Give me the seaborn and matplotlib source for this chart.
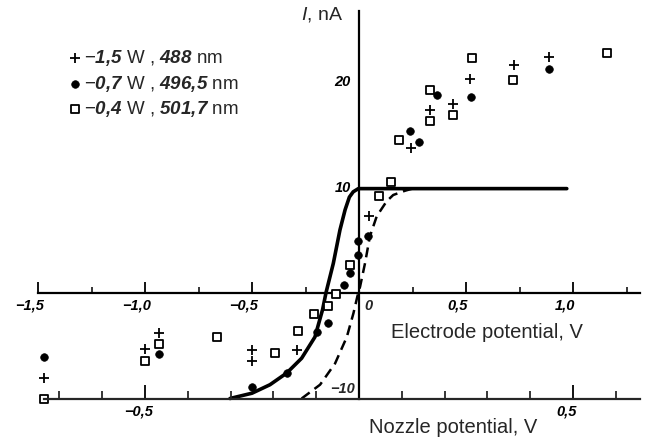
import numpy as np
import pandas as pd
import matplotlib
matplotlib.use("Agg")
import matplotlib.pyplot as plt
import seaborn as sns
from matplotlib.transforms import ScaledTranslation
from matplotlib.ticker import FixedLocator, NullFormatter, FixedFormatter

# ---------------- data (electrode potential V, current nA) ----------------
plus_x = [-1.47, -1.00, -0.933, -0.50, -0.50, -0.288, 0.048, 0.242, 0.332, 0.438, 0.519, 0.724, 0.889]
plus_y = [-8.1, -5.3, -3.85, -5.4, -6.5, -5.4, 7.2, 13.6, 17.2, 17.8, 20.1, 21.5, 22.2]

dot_x = [-1.47, -0.933, -0.501, -0.338, -0.198, -0.143, -0.070, -0.042, -0.003, -0.003, 0.044,
         0.238, 0.282, 0.365, 0.523, 0.889]
dot_y = [-6.05, -5.8, -8.9, -7.6, -3.7, -2.9, 0.7, 1.8, 3.5, 4.9, 5.3,
         15.2, 14.2, 18.6, 18.4, 21.1]

sq_x = [-1.47, -0.999, -0.933, -0.665, -0.393, -0.284, -0.21, -0.143, -0.107, -0.042, 0.095,
        0.148, 0.188, 0.331, 0.332, 0.441, 0.528, 0.718, 1.157]
sq_y = [-10.0, -6.5, -4.9, -4.2, -5.7, -3.6, -2.0, -1.3, -0.1, 2.6, 9.1,
        10.4, 14.4, 19.1, 16.2, 16.7, 22.1, 20.0, 22.6]

solid_x = [-0.603, -0.50, -0.416, -0.338, -0.268, -0.206, -0.170, -0.154, -0.12, -0.089,
           -0.065, -0.045, -0.027, -0.003, 0.50, 0.971]
solid_y = [-10.0, -9.5, -8.7, -7.6, -6.2, -4.2, -1.6, 0.0, 2.75, 5.9,
           7.8, 9.0, 9.5, 9.8, 9.8, 9.8]

dash_x = [-0.268, -0.182, -0.112, -0.057, -0.026, -0.008, 0.005, 0.028, 0.051, 0.083,
          0.129, 0.16, 0.215, 0.25]
dash_y = [-10.0, -8.7, -6.7, -4.2, -1.96, -0.4, 0.55, 2.75, 5.3, 7.2,
          8.6, 9.2, 9.6, 9.8]

legend_labels = [r"$-\mathbf{1{,}5}$ W , $\mathbf{488}$ nm",
                 r"$-\mathbf{0{,}7}$ W , $\mathbf{496{,}5}$ nm",
                 r"$-\mathbf{0{,}4}$ W , $\mathbf{501{,}7}$ nm"]

el_major = [-1.5, -1.0, -0.5, 0.5, 1.0]
el_major_labels = ["\u22121,5", "\u22121,0", "\u22120,5", "0,5", "1,0"]
el_minor = [-1.25, -0.75, -0.25, 0.25, 0.75, 1.25]
noz_major = [-0.5, 0.5]
noz_major_labels = ["\u22120,5", "0,5"]
noz_minor = [-0.7, -0.6, -0.4, -0.3, -0.2, -0.1, 0.1, 0.2, 0.3, 0.4, 0.6]
y_major = [10, 20]
y_minor = [15]

# ---------------- style ----------------
sns.set_style("white")
plt.rcParams["font.family"] = ["Liberation Sans", "DejaVu Sans"]
plt.rcParams["mathtext.fontset"] = "custom"
plt.rcParams["mathtext.rm"] = "Liberation Sans"
plt.rcParams["mathtext.it"] = "Liberation Sans:italic"
plt.rcParams["mathtext.bf"] = "Liberation Sans:italic:bold"

W, H = 650, 444
fig = plt.figure(figsize=(W / 100, H / 100), dpi=100)
ax = fig.add_axes([0, 0, 1, 1])
ax.patch.set_alpha(0)

# pixel mapping: X=0 at px 359, 214 px per V ; Y=0 at py 292.5, 10.6 px per nA
xmin, xmax = -359 / 214, (W - 359) / 214
ymin, ymax = -(H - 292.5) / 10.6, 292.5 / 10.6
ax.set_xlim(xmin, xmax)
ax.set_ylim(ymin, ymax)

# curves
sns.lineplot(x=solid_x, y=solid_y, ax=ax, color="black", lw=2.6, sort=False, estimator=None)
sns.lineplot(x=dash_x, y=dash_y, ax=ax, color="black", lw=1.8, sort=False, estimator=None,
             dashes=False, linestyle=(0, (4.0, 2.4)))

# scatter points
sns.scatterplot(x=plus_x, y=plus_y, ax=ax, marker="+", s=55, color="black", linewidth=1.3,
                label=legend_labels[0], zorder=5)
sns.scatterplot(x=dot_x, y=dot_y, ax=ax, marker="o", s=30, color="black", edgecolor="black",
                linewidth=0.5, label=legend_labels[1], zorder=5)
sns.scatterplot(x=sq_x, y=sq_y, ax=ax, marker="s", s=28, color="black", facecolor="white",
                edgecolor="black", linewidth=1.3, label=legend_labels[2], zorder=5)

# ---------------- axes (electrode potential & current) ----------------
for s in ["top", "right"]:
    ax.spines[s].set_visible(False)
ax.spines["bottom"].set_position(("data", 0))
ax.spines["bottom"].set_bounds(-1.5, 1.313)
ax.spines["left"].set_position(("data", 0))
ax.spines["left"].set_bounds(-10, 26.6)
for s in ["bottom", "left"]:
    ax.spines[s].set_linewidth(1.6)
    ax.spines[s].set_color("black")

ax.xaxis.set_major_locator(FixedLocator(el_major))
ax.xaxis.set_major_formatter(FixedFormatter(el_major_labels))
ax.xaxis.set_minor_locator(FixedLocator(el_minor))
ax.xaxis.set_minor_formatter(NullFormatter())
ax.tick_params(axis="x", which="major", direction="in", length=8, width=1.3, pad=4.5,
               labelsize=10.5, colors="black")
ax.tick_params(axis="x", which="minor", direction="in", length=4.5, width=1.3)
for lab in ax.get_xticklabels():
    lab.set_fontstyle("italic")
    lab.set_fontweight("bold")
    lab.set_transform(lab.get_transform() + ScaledTranslation(-0.08, 0, fig.dpi_scale_trans))

ax.yaxis.set_major_locator(FixedLocator(y_major))
ax.yaxis.set_major_formatter(FixedFormatter(["10", "20"]))
ax.yaxis.set_minor_locator(FixedLocator(y_minor))
ax.yaxis.set_minor_formatter(NullFormatter())
ax.tick_params(axis="y", which="major", direction="in", length=9, width=1.3, pad=6,
               labelsize=10.5, colors="black")
ax.tick_params(axis="y", which="minor", direction="in", length=4.5, width=1.3)
for lab in ax.get_yticklabels():
    lab.set_fontstyle("italic")
    lab.set_fontweight("bold")

ax.text(0.045, -0.6, "0", fontsize=10.5, fontstyle="italic", fontweight="bold",
        ha="center", va="top")
ax.text(-0.018, -9.1, "\u221210", fontsize=10.5, fontstyle="italic", fontweight="bold",
        ha="right", va="center")
ax.text(-0.075, 26.2, r"$\mathit{I}$, nA", fontsize=14, ha="right", va="center")
ax.text(1.047, -3.75, "Electrode potential, V", fontsize=14.5, ha="right", va="center")

# ---------------- nozzle potential axis ----------------
ax2 = ax.twiny()
ax2.set_xlim(xmin / 2, xmax / 2)
ax2.patch.set_alpha(0)
for s in ["top", "right", "left"]:
    ax2.spines[s].set_visible(False)
ax2.spines["bottom"].set_visible(True)
ax2.spines["bottom"].set_position(("data", -10))
ax2.spines["bottom"].set_bounds(-0.736, 0.656)
ax2.spines["bottom"].set_linewidth(1.6)
ax2.xaxis.set_ticks_position("bottom")
ax2.xaxis.set_label_position("bottom")
ax2.xaxis.set_major_locator(FixedLocator(noz_major))
ax2.xaxis.set_major_formatter(FixedFormatter(noz_major_labels))
ax2.xaxis.set_minor_locator(FixedLocator(noz_minor))
ax2.xaxis.set_minor_formatter(NullFormatter())
ax2.tick_params(axis="x", which="major", direction="in", length=10, width=1.3, pad=4.5,
                labelsize=10.5, colors="black")
ax2.tick_params(axis="x", which="minor", direction="in", length=5.5, width=1.3)
for lab in ax2.get_xticklabels():
    lab.set_fontstyle("italic")
    lab.set_fontweight("bold")
    lab.set_transform(lab.get_transform() + ScaledTranslation(-0.06, 0, fig.dpi_scale_trans))
ax2.text(0.832, -12.75, "Nozzle potential, V", fontsize=14.5, ha="right", va="center",
         transform=ax.transData)

# legend
leg = ax.legend(loc="upper left", bbox_to_anchor=(68.5 / W, 1 - 48 / H), frameon=False,
                handlelength=0.7, handletextpad=0.15, labelspacing=0.3, borderpad=0,
                borderaxespad=0, fontsize=13.5)

fig.savefig("out.png", dpi=100)
